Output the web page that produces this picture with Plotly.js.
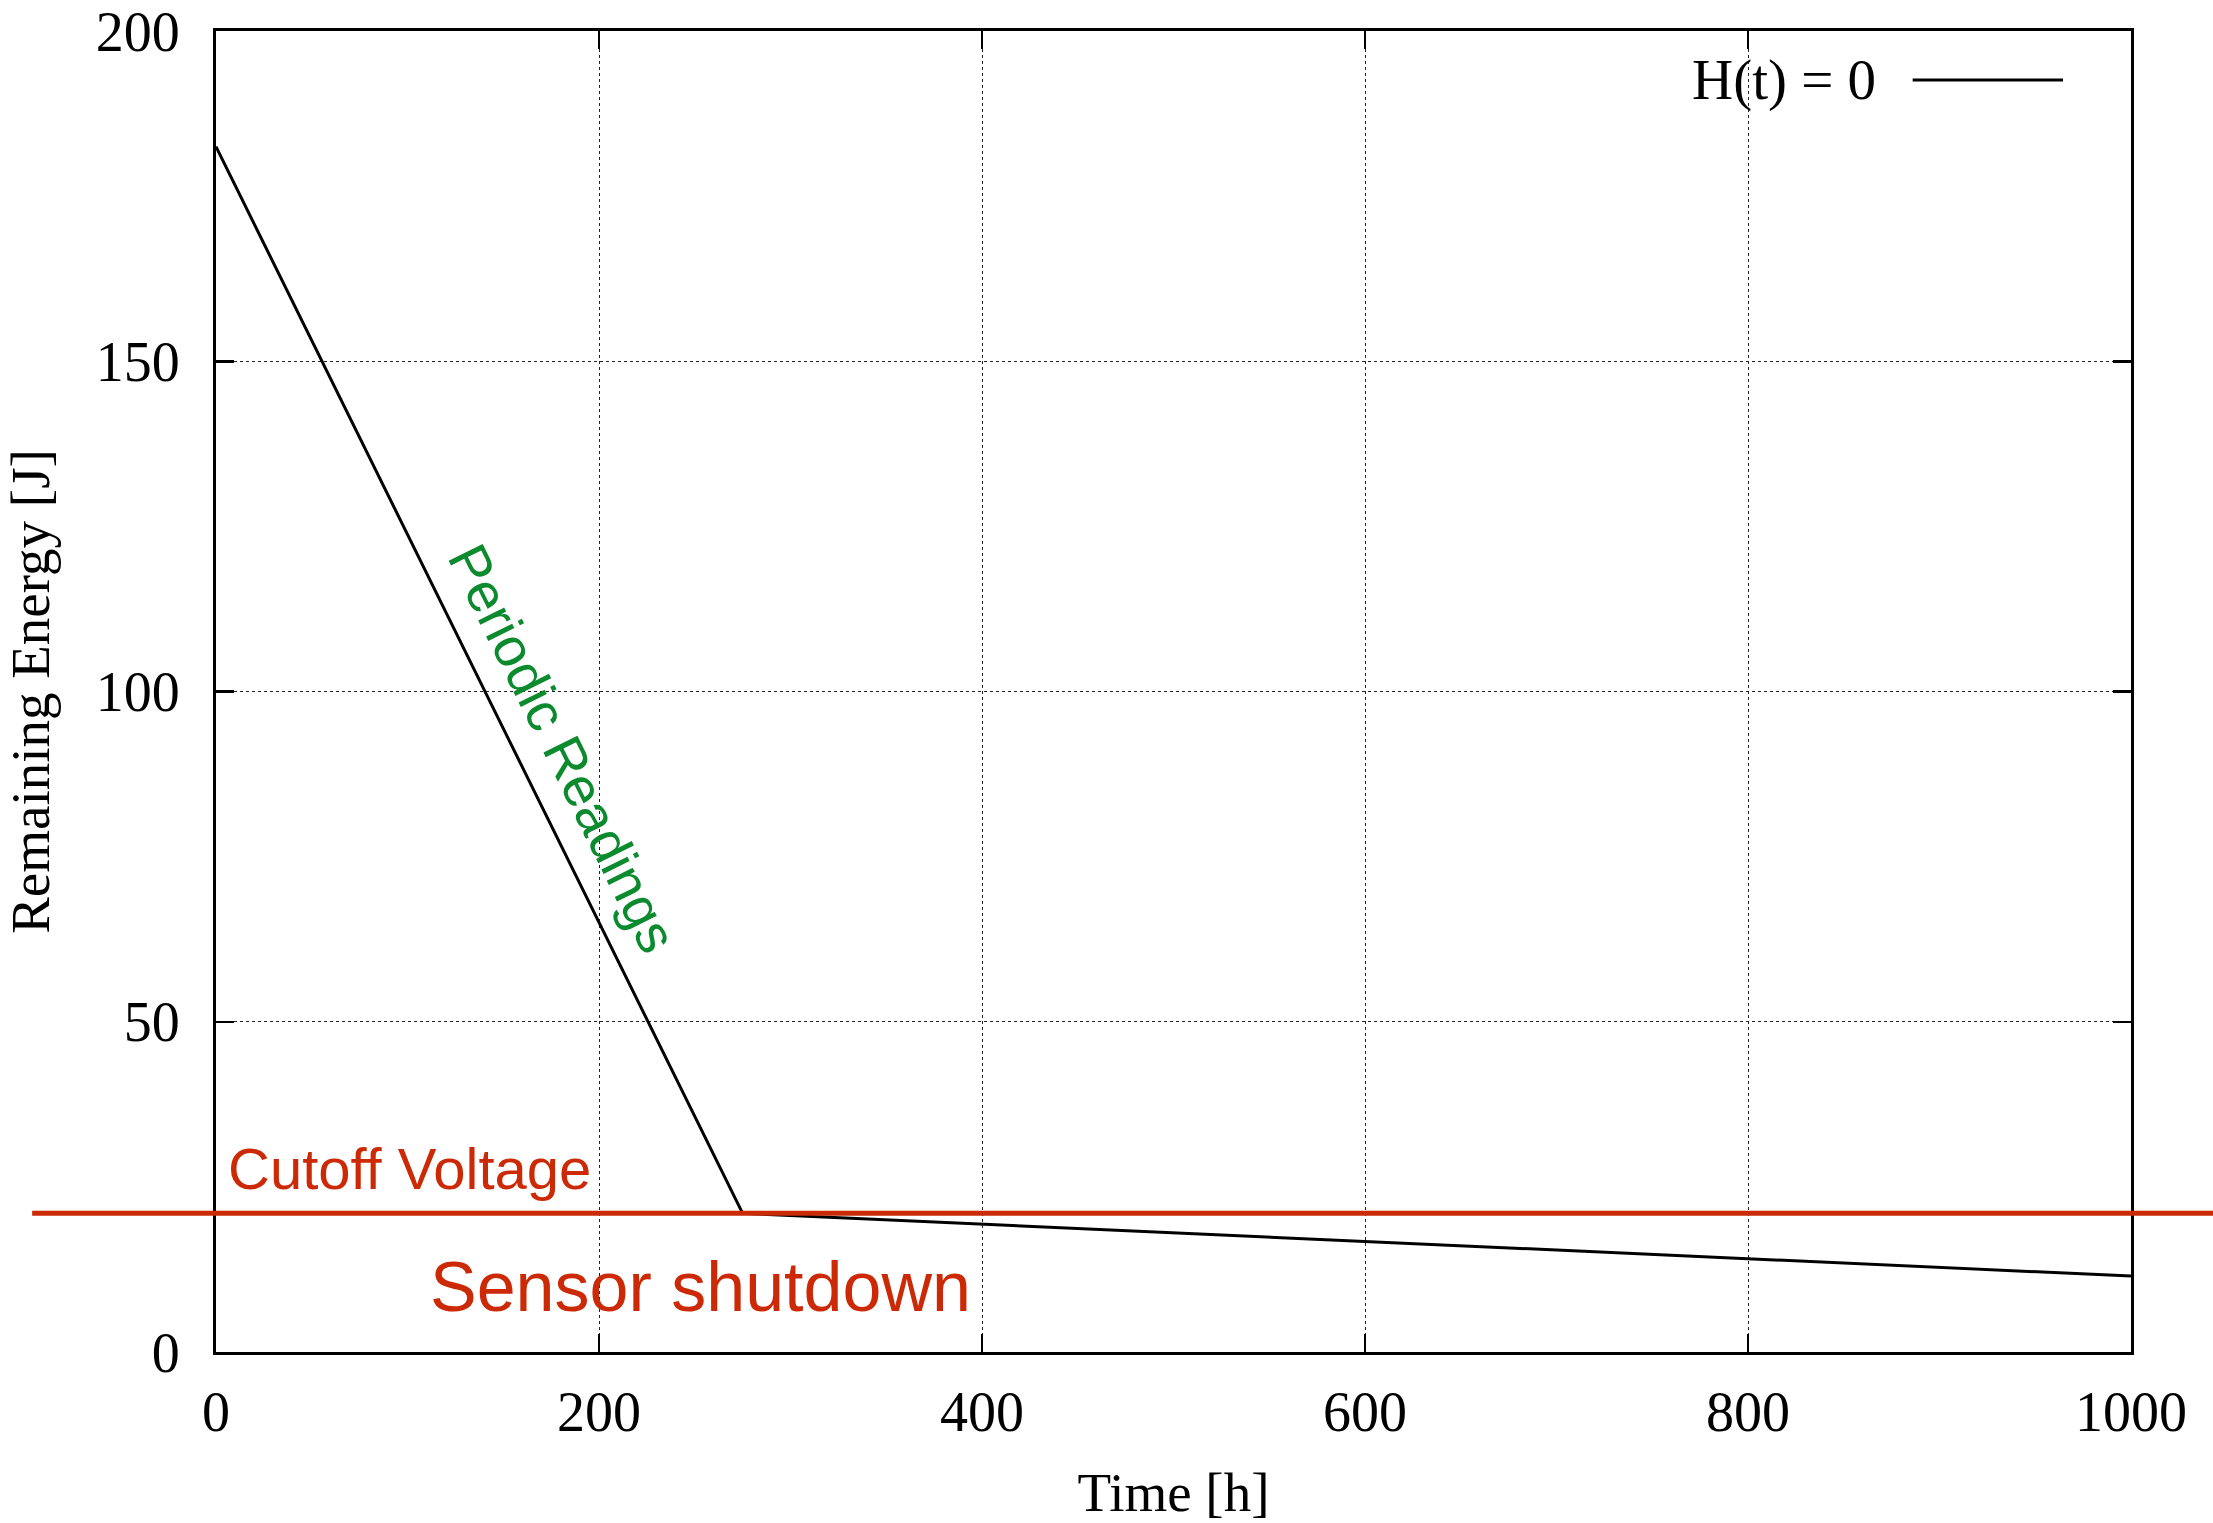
<!DOCTYPE html>
<html>
<head>
<meta charset="utf-8">
<script src="https://cdn.plot.ly/plotly-3.0.1.min.js"></script>
<style>html,body{margin:0;padding:0;background:#fff;}#chart{width:2213px;height:1523px;}</style>
</head>
<body>
<div id="chart"></div>
<script>
// Data
const timeHours = [0, 275, 1000];
const remainingEnergy = [182.5, 21, 11.5];
const cutoffEnergy = 21;
const xTicks = [0, 200, 400, 600, 800, 1000];
const yTicks = [0, 50, 100, 150, 200];
const seriesName = 'H(t) = 0';
const labelPeriodic = {x: 181, y: 91.5, text: 'Periodic Readings'};
const labelCutoff = {x: 5, y: 27.8, text: 'Cutoff Voltage'};
const labelShutdown = {x: 253, y: 9.8, text: 'Sensor shutdown'};

const red = '#cc2a06';
const green = '#0b8a2e';
const serif = 'Liberation Serif, Times New Roman, serif';
const sans = 'Liberation Sans, Arial, sans-serif';

const axisCommon = {
  showline: true, linecolor: '#000', linewidth: 3, mirror: 'ticks',
  ticks: 'inside', ticklen: 18, tickwidth: 2.5, tickcolor: '#000',
  showgrid: true, gridcolor: '#222', griddash: 'dot', gridwidth: 1,
  zeroline: false, tickfont: {family: serif, size: 56, color: '#000'},
  ticklabeloverflow: 'allow', automargin: false
};

const data = [{
  x: timeHours, y: remainingEnergy, type: 'scatter', mode: 'lines',
  name: seriesName, line: {color: '#000', width: 3}, showlegend: false
}];

const layout = {
  width: 2213, height: 1523,
  margin: {l: 216, r: 82, t: 31, b: 171},
  paper_bgcolor: '#fff', plot_bgcolor: '#fff',
  xaxis: Object.assign({}, axisCommon, {
    range: [0, 1000], tickvals: xTicks, ticklabelstandoff: 9,
    title: {text: 'Time [h]', font: {family: serif, size: 55, color: '#000'}, standoff: 38}
  }),
  yaxis: Object.assign({}, axisCommon, {
    range: [0, 200], tickvals: yTicks, ticklabelstandoff: 22,
    title: {text: 'Remaining Energy [J]', font: {family: serif, size: 55, color: '#000'}, standoff: 36}
  }),
  shapes: [
    {type: 'line', xref: 'paper', yref: 'y', x0: -0.096, x1: 1.05, y0: cutoffEnergy, y1: cutoffEnergy,
     line: {color: red, width: 5}, layer: 'above'},
    {type: 'line', xref: 'paper', yref: 'paper', x0: 0.886, x1: 0.9645, y0: 0.963, y1: 0.963,
     line: {color: '#000', width: 3}}
  ],
  annotations: [
    {xref: 'paper', yref: 'paper', x: 0.868, y: 0.963, xanchor: 'right', yanchor: 'middle',
     text: seriesName, showarrow: false, font: {family: serif, size: 57, color: '#000'}},
    {x: labelPeriodic.x, y: labelPeriodic.y, text: labelPeriodic.text, showarrow: false, textangle: 63.7,
     font: {family: sans, size: 55, color: green}},
    {x: labelCutoff.x, y: labelCutoff.y, text: labelCutoff.text, showarrow: false, xanchor: 'left', yanchor: 'middle',
     font: {family: sans, size: 58, color: red}},
    {x: labelShutdown.x, y: labelShutdown.y, text: labelShutdown.text, showarrow: false, xanchor: 'center', yanchor: 'middle',
     font: {family: sans, size: 70, color: red}}
  ]
};

Plotly.newPlot('chart', data, layout, {displayModeBar: false, staticPlot: true});
</script>
</body>
</html>
